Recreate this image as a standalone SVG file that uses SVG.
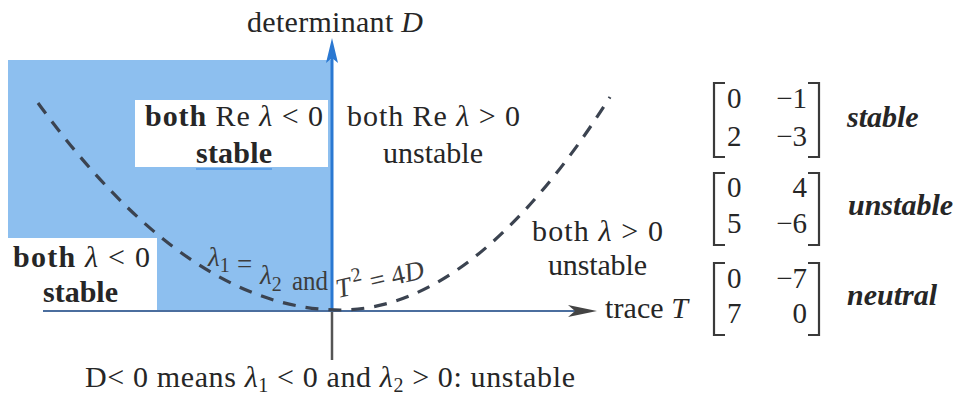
<svg xmlns="http://www.w3.org/2000/svg" width="954" height="397" viewBox="0 0 954 397">
<defs>
<style>
text{font-family:"Liberation Serif","Times New Roman",serif;font-size:30px;fill:#262626}
.b{font-weight:bold}
.i{font-style:italic}
.bi{font-weight:bold;font-style:italic}
.m{font-size:29px}
.sub{font-size:20px}
.br{fill:none;stroke:#3a3a3a;stroke-width:2.2}
.dash{fill:none;stroke:#3b4350;stroke-width:3.2;stroke-dasharray:13 10}
.cl{font-size:27px;fill:#3c3c3c}
</style>
</defs>
<rect width="954" height="397" fill="#ffffff"/>

<g id="regions">
  <path id="stable-region" d="M8,60 H332 V310 H157 V238 H8 Z" fill="#8dbfef"/>
  <rect id="label-box" x="135" y="100" width="193" height="67" fill="#ffffff"/>
</g>

<g id="connectors">
  <line x1="332" y1="56" x2="332" y2="310" stroke="#2a78d2" stroke-width="3"/>
  <polygon points="332,38 338,63 332,58 326,63" fill="#2a78d2"/>
  <line x1="332" y1="310" x2="332" y2="360" stroke="#555555" stroke-width="2.5"/>
  <line x1="43" y1="311" x2="580" y2="311" stroke="#4b6e9e" stroke-width="2"/>
  <polygon points="597,311 568,305 575,311 568,317" fill="#444444"/>
  <path class="dash" d="M38,103 Q189,310 340,310 Q475,310 610,97"/>
</g>

<g id="axis-labels">
  <text x="247" y="32" textLength="176" lengthAdjust="spacing">determinant <tspan class="i">D</tspan></text>
  <text x="605" y="318" textLength="83" lengthAdjust="spacing">trace <tspan class="i">T</tspan></text>
</g>

<g id="region-stable-complex">
  <text x="145" y="126" textLength="178" lengthAdjust="spacing"><tspan class="b">both</tspan> Re <tspan class="i">λ</tspan> &lt; 0</text>
  <text class="b" x="196" y="163" textLength="76" lengthAdjust="spacing">stable</text>
  <line x1="196" y1="169" x2="272" y2="169" stroke="#5fa0e6" stroke-width="2"/>
</g>

<g id="region-unstable-complex">
  <text x="347" y="126" textLength="173" lengthAdjust="spacing">both Re <tspan class="i">λ</tspan> &gt; 0</text>
  <text x="383" y="163" textLength="100" lengthAdjust="spacing">unstable</text>
</g>

<g id="region-stable-real">
  <text x="13" y="267" textLength="137" lengthAdjust="spacing"><tspan class="b">both</tspan> <tspan class="i">λ</tspan> &lt; 0</text>
  <text class="b" x="43" y="302" textLength="75" lengthAdjust="spacing">stable</text>
</g>

<g id="region-unstable-real">
  <text x="532" y="241" textLength="131" lengthAdjust="spacing">both <tspan class="i">λ</tspan> &gt; 0</text>
  <text x="548" y="275" textLength="99" lengthAdjust="spacing">unstable</text>
</g>

<g id="curve-label">
  <text class="cl" x="208" y="266"><tspan class="i">λ</tspan><tspan class="sub" dy="6">1</tspan></text>
  <text class="cl" x="237" y="273">=</text>
  <text class="cl" x="260" y="284"><tspan class="i">λ</tspan><tspan class="sub" dy="7">2</tspan></text>
  <text class="cl" x="292" y="290" textLength="36" lengthAdjust="spacingAndGlyphs">and</text>
  <text class="cl" transform="translate(338,298) rotate(-13)"><tspan class="i">T</tspan><tspan class="sub" dx="3" dy="-12">2</tspan><tspan dy="12"> = 4<tspan class="i">D</tspan></tspan></text>
</g>

<g id="bottom-label">
  <text x="85" y="387" textLength="490" lengthAdjust="spacing">D&lt; 0 means <tspan class="i">λ</tspan><tspan class="sub" dy="5">1</tspan><tspan dy="-5"> &lt; 0 and </tspan><tspan class="i">λ</tspan><tspan class="sub" dy="5">2</tspan><tspan dy="-5"> &gt; 0: unstable</tspan></text>
</g>

<g id="matrix-stable">
  <path class="br" d="M725,83 H714 V157 H725"/>
  <path class="br" d="M808,83 H819 V157 H808"/>
  <text class="m" x="727" y="108">0</text>
  <text class="m" x="807" y="108" text-anchor="end">−1</text>
  <text class="m" x="727" y="146">2</text>
  <text class="m" x="807" y="146" text-anchor="end">−3</text>
  <text class="bi" x="847" y="127">stable</text>
</g>

<g id="matrix-unstable">
  <path class="br" d="M725,173 H714 V245 H725"/>
  <path class="br" d="M808,173 H819 V245 H808"/>
  <text class="m" x="727" y="197">0</text>
  <text class="m" x="807" y="197" text-anchor="end">4</text>
  <text class="m" x="727" y="233">5</text>
  <text class="m" x="807" y="233" text-anchor="end">−6</text>
  <text class="bi" x="848" y="215">unstable</text>
</g>

<g id="matrix-neutral">
  <path class="br" d="M725,263 H714 V335 H725"/>
  <path class="br" d="M808,263 H819 V335 H808"/>
  <text class="m" x="727" y="288">0</text>
  <text class="m" x="807" y="288" text-anchor="end">−7</text>
  <text class="m" x="727" y="323">7</text>
  <text class="m" x="807" y="323" text-anchor="end">0</text>
  <text class="bi" x="847" y="305">neutral</text>
</g>
</svg>
